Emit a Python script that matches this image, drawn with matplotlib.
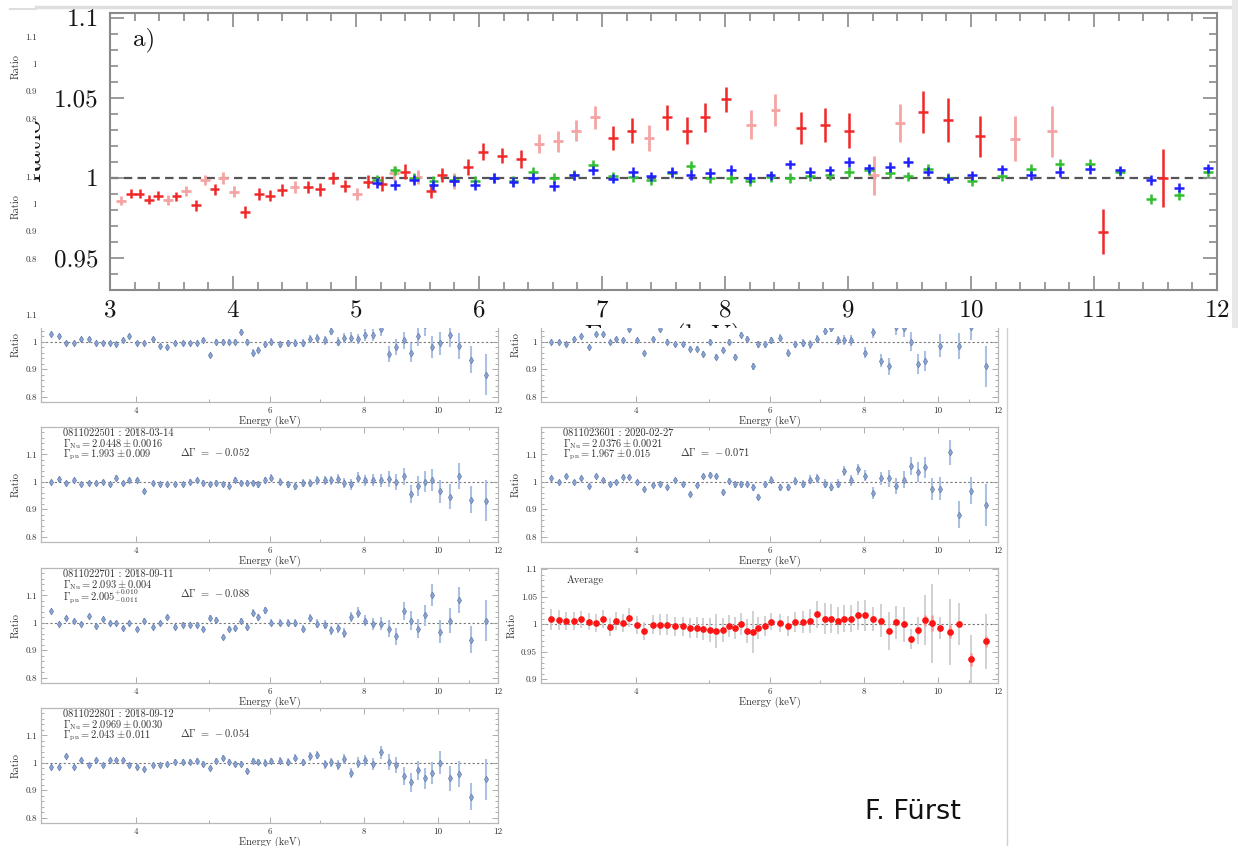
import matplotlib
matplotlib.use("Agg")
import matplotlib.pyplot as plt
from matplotlib.patches import Rectangle
from matplotlib.lines import Line2D
from matplotlib.transforms import Bbox, TransformedBbox
from matplotlib.ticker import FixedLocator, FixedFormatter, NullFormatter, MultipleLocator

plt.rcParams["font.family"] = ["cmr10", "DejaVu Serif"]
plt.rcParams["mathtext.fontset"] = "cm"
plt.rcParams["axes.formatter.use_mathtext"] = True

# ---------------- data ----------------
# common energy grid (keV) of the binned ratio spectra
energy = [3.09, 3.17, 3.24, 3.32, 3.39, 3.47, 3.54, 3.62, 3.70, 3.77, 3.85, 3.92, 4.01, 4.10, 4.21,
          4.30, 4.40, 4.50, 4.61, 4.71, 4.81, 4.91, 5.01, 5.10, 5.21, 5.31, 5.40, 5.50, 5.61, 5.70,
          5.80, 5.91, 6.03, 6.19, 6.34, 6.49, 6.64, 6.79, 6.94, 7.09, 7.24, 7.38, 7.53, 7.69, 7.84,
          8.01, 8.21, 8.41, 8.62, 8.81, 9.01, 9.21, 9.42, 9.61, 9.81, 10.07, 10.36, 10.66, 11.07, 11.56]

# panel a) : pn ratio, two shades of red
pn_dark_E = [3.17, 3.24, 3.32, 3.39, 3.54, 3.70, 3.85, 4.10, 4.21, 4.30, 4.40, 4.61, 4.71, 4.81, 4.91,
             5.10, 5.21, 5.40, 5.61, 5.70, 5.91, 6.03, 6.19, 6.34, 7.09, 7.24, 7.53, 7.69, 7.84, 8.01,
             8.62, 8.81, 9.01, 9.61, 9.81, 10.07, 11.07, 11.56]
pn_dark_R = [0.990, 0.990, 0.9863, 0.989, 0.9884, 0.9829, 0.993, 0.9786, 0.990, 0.989, 0.9924, 0.9945,
             0.993, 1.000, 0.995, 0.9976, 0.9965, 1.004, 0.9918, 1.002, 1.0067, 1.0165, 1.0139, 1.0118,
             1.0247, 1.0296, 1.0378, 1.0296, 1.0378, 1.049, 1.0312, 1.0329, 1.0296, 1.041, 1.036, 1.026,
             0.9665, 1.000]
pn_dark_err = [0.0028, 0.0028, 0.0028, 0.003, 0.003, 0.0035, 0.0035, 0.0038, 0.0035, 0.0035, 0.0038,
               0.0038, 0.004, 0.004, 0.004, 0.004, 0.0045, 0.0045, 0.0045, 0.0045, 0.005, 0.005, 0.0048,
               0.0055, 0.0075, 0.0077, 0.008, 0.0085, 0.009, 0.008, 0.010, 0.0105, 0.011, 0.013, 0.0138,
               0.0128, 0.0143, 0.018]
pn_light_E = [3.09, 3.47, 3.62, 3.77, 3.92, 4.01, 4.50, 5.01, 5.31, 5.50, 5.80, 6.49, 6.64, 6.79, 6.94,
              7.38, 8.21, 8.41, 9.21, 9.42, 10.36, 10.66]
pn_light_R = [0.9857, 0.9863, 0.992, 0.9986, 1.000, 0.9914, 0.9945, 0.990, 1.003, 1.0006, 0.998, 1.0214,
              1.023, 1.0296, 1.0378, 1.025, 1.0333, 1.0424, 1.0016, 1.0343, 1.0245, 1.029]
pn_light_err = [0.0028, 0.003, 0.003, 0.003, 0.0035, 0.0035, 0.0038, 0.004, 0.0045, 0.0045, 0.005, 0.006,
                0.0065, 0.0068, 0.007, 0.008, 0.009, 0.0097, 0.012, 0.012, 0.014, 0.016]

# panel a) : NuSTAR ratios (blue, green)
nu_E = [5.17, 5.32, 5.47, 5.63, 5.80, 5.97, 6.12, 6.28, 6.44, 6.61, 6.77, 6.93, 7.09, 7.25, 7.40, 7.57,
        7.72, 7.88, 8.05, 8.20, 8.37, 8.53, 8.69, 8.85, 9.01, 9.17, 9.34, 9.49, 9.65, 9.81, 10.01, 10.25,
        10.49, 10.72, 10.97, 11.21, 11.46, 11.69, 11.93]
fpma_R = [0.997, 0.9955, 0.9986, 0.9955, 0.998, 0.9955, 1.000, 0.9976, 1.000, 0.995, 1.0016, 1.0047,
          0.9996, 1.0037, 1.001, 1.0037, 1.002, 1.003, 1.005, 1.000, 1.0016, 1.0084, 1.0037, 1.0047,
          1.010, 1.006, 1.0067, 1.010, 1.004, 0.9996, 1.0016, 1.0053, 1.0016, 1.0037, 1.0053, 1.0047,
          0.9986, 0.9939, 1.006]
fpmb_R = [0.999, 1.0047, 1.000, 0.998, 0.999, 0.998, 1.000, 0.998, 1.004, 1.000, 1.002, 1.008, 1.001,
          1.0006, 0.9986, 1.003, 1.0073, 1.000, 1.000, 0.998, 1.0006, 1.000, 1.001, 1.0016, 1.0037,
          1.005, 1.003, 1.001, 1.0057, 1.000, 0.998, 1.001, 1.0057, 1.0088, 1.0088, 1.004, 0.987,
          0.9894, 1.0037]
nu_err = 0.003

# small panels (ratio per observation)
obs_top_left = [1.03, 1.02, 0.995, 0.995, 1.01, 1.01, 0.995, 0.995, 0.995, 0.99, 1.005, 1.02, 0.995,
                0.995, 1.01, 0.985, 0.98, 0.995, 0.995, 0.995, 0.995, 1.005, 0.95, 1.0, 1.0, 1.0, 1.0,
                1.035, 1.0, 0.96, 0.97, 0.99, 1.0, 0.99, 0.995, 0.995, 0.995, 1.01, 1.015, 1.005, 1.04,
                1.0, 1.015, 1.015, 1.01, 1.025, 1.025, 1.045, 0.955, 0.98, 1.005, 0.96, 1.02, 1.06,
                0.98, 0.995, 1.025, 0.985, 0.935, 0.88]
obs_top_right = [1.0, 1.0, 0.99, 1.01, 1.02, 0.98, 1.03, 1.03, 1.0, 1.01, 1.005, 1.045, 1.005, 0.96,
                 1.01, 1.045, 1.0, 0.99, 0.99, 0.975, 0.975, 0.955, 1.0, 0.945, 0.97, 1.0, 0.945, 1.025,
                 1.01, 0.91, 0.99, 0.99, 1.005, 1.015, 0.96, 0.99, 0.995, 0.99, 1.01, 1.04, 1.05, 1.005,
                 1.005, 1.005, 1.07, 0.96, 1.035, 0.93, 0.91, 1.055, 1.05, 1.0, 0.92, 0.93, 1.1, 0.985,
                 1.1, 0.985, 1.055, 0.91]
obs_2501 = [1.0, 1.01, 0.995, 1.005, 0.99, 0.995, 0.995, 1.0, 0.99, 1.015, 0.995, 1.005, 1.005, 0.965,
            0.995, 0.99, 0.99, 0.99, 0.99, 1.0, 1.005, 0.995, 0.99, 0.995, 0.99, 0.985, 1.005, 0.995,
            0.995, 0.995, 0.99, 1.005, 1.015, 1.0, 0.99, 0.985, 0.995, 0.995, 1.005, 1.005, 1.005, 1.01,
            0.995, 0.99, 1.015, 1.005, 1.005, 1.005, 1.01, 1.0, 1.02, 0.955, 0.985, 1.0, 1.005, 0.965,
            0.945, 1.02, 0.935, 0.93]
obs_3601 = [1.015, 1.0, 1.02, 1.0, 1.012, 0.985, 1.02, 1.005, 0.99, 1.0, 1.018, 1.018, 1.0, 0.973,
            0.988, 0.993, 0.98, 1.005, 0.99, 0.955, 0.988, 1.02, 1.025, 1.02, 0.963, 1.003, 0.99, 0.99,
            0.993, 0.98, 0.945, 0.99, 1.008, 0.98, 0.98, 1.003, 0.993, 1.008, 1.012, 0.993, 0.982,
            0.993, 1.04, 1.005, 1.045, 1.022, 0.96, 1.012, 1.012, 0.985, 1.008, 1.058, 1.035, 1.053,
            0.975, 0.975, 1.108, 0.88, 0.968, 0.915]
obs_2701 = [1.043, 0.997, 1.017, 1.005, 0.997, 1.023, 0.988, 1.012, 1.0, 1.0, 0.981, 1.0, 0.977, 1.008,
            0.985, 1.0, 1.02, 0.985, 0.993, 0.993, 0.993, 0.979, 1.017, 1.01, 0.947, 0.977, 0.981,
            1.008, 0.985, 1.037, 1.02, 1.045, 1.0, 1.0, 1.0, 1.0, 0.979, 1.017, 0.997, 0.993, 0.973,
            0.981, 0.962, 1.02, 1.037, 1.008, 0.997, 0.997, 0.979, 0.95, 1.043, 1.008, 0.979, 1.028,
            1.1, 0.967, 1.008, 1.083, 0.938, 1.008]
obs_2801 = [0.986, 0.986, 1.024, 0.984, 1.009, 0.992, 1.009, 0.992, 1.009, 1.009, 1.009, 0.992, 0.986,
            0.977, 0.992, 0.992, 0.995, 1.003, 1.003, 1.003, 1.007, 0.995, 0.98, 1.007, 1.017, 1.003,
            0.995, 0.995, 0.971, 1.007, 1.003, 1.0, 1.007, 1.007, 1.003, 1.019, 1.001, 1.023, 1.027,
            0.995, 1.001, 0.992, 1.015, 0.963, 1.0, 1.009, 0.995, 1.038, 1.003, 0.992, 0.951, 0.928,
            0.972, 0.943, 0.963, 1.0, 0.943, 0.959, 0.876, 0.94]
obs_err = [0.007, 0.007, 0.007, 0.007, 0.007, 0.007, 0.007, 0.007, 0.008, 0.008, 0.008, 0.008, 0.008,
           0.008, 0.008, 0.008, 0.009, 0.009, 0.009, 0.009, 0.009, 0.010, 0.010, 0.010, 0.010, 0.010,
           0.011, 0.011, 0.011, 0.012, 0.012, 0.012, 0.012, 0.013, 0.013, 0.014, 0.014, 0.015, 0.015,
           0.016, 0.016, 0.017, 0.018, 0.019, 0.020, 0.021, 0.022, 0.024, 0.030, 0.030, 0.032, 0.034,
           0.036, 0.038, 0.040, 0.042, 0.045, 0.048, 0.050, 0.075]

avg_R = [1.009, 1.0074, 1.0057, 1.0057, 1.0085, 1.0045, 1.0017, 1.009, 0.995, 1.0057, 1.0017, 1.012,
         0.9989, 0.9875, 0.9989, 0.9989, 0.9989, 0.996, 0.996, 0.9932, 0.9932, 0.9903, 0.9892, 0.9875,
         0.9892, 0.996, 0.9932, 1.0, 0.9875, 0.9864, 0.9932, 0.996, 1.0045, 1.0017, 0.996, 1.0034,
         1.0045, 1.0063, 1.0176, 1.010, 1.010, 1.0063, 1.010, 1.010, 1.016, 1.016, 1.010, 1.0063,
         0.9875, 1.0034, 1.0, 0.9733, 0.9886, 1.0074, 1.0017, 0.9932, 0.9864, 1.0, 0.9364, 0.9688]
avg_scatter = [0.019, 0.018, 0.017, 0.017, 0.016, 0.016, 0.016, 0.016, 0.017, 0.016, 0.016, 0.017,
               0.016, 0.017, 0.017, 0.019, 0.019, 0.017, 0.017, 0.018, 0.019, 0.020, 0.022, 0.030,
               0.022, 0.020, 0.020, 0.020, 0.022, 0.038, 0.020, 0.018, 0.016, 0.016, 0.018, 0.018,
               0.020, 0.022, 0.024, 0.028, 0.026, 0.024, 0.024, 0.025, 0.026, 0.028, 0.022, 0.030,
               0.034, 0.030, 0.032, 0.018, 0.025, 0.045, 0.072, 0.020, 0.060, 0.038, 0.044, 0.050]
avg_err = [0.003, 0.003, 0.003, 0.003, 0.003, 0.003, 0.003, 0.003, 0.003, 0.003, 0.003, 0.004, 0.003,
           0.003, 0.003, 0.003, 0.003, 0.003, 0.003, 0.003, 0.003, 0.003, 0.003, 0.003, 0.003, 0.003,
           0.003, 0.003, 0.003, 0.003, 0.003, 0.003, 0.003, 0.003, 0.003, 0.003, 0.003, 0.003, 0.004,
           0.004, 0.004, 0.004, 0.004, 0.004, 0.004, 0.004, 0.004, 0.005, 0.006, 0.005, 0.006, 0.006,
           0.006, 0.010, 0.015, 0.005, 0.012, 0.006, 0.012, 0.010]

small_xticks = [4, 6, 8, 10, 12]
small_xticklabels = ["4", "6", "8", "10", "12"]
small_xminor = [3, 5, 7, 9, 11]
obs_yticks = [0.8, 0.9, 1.0, 1.1]
obs_yticklabels = ["0.8", "0.9", "1", "1.1"]
avg_yticks = [0.9, 0.95, 1.0, 1.05, 1.1]
avg_yticklabels = ["0.9", "0.95", "1", "1.05", "1.1"]
top_yticks = [0.95, 1.0, 1.05, 1.1]
top_yticklabels = ["0.95", "1", "1.05", "1.1"]

# ---------------- figure ----------------
W, H = 1238, 846
fig = plt.figure(figsize=(W / 100, H / 100), dpi=100)
fig.patch.set_facecolor("white")


def rect(x0, y0, x1, y1):
    return [x0 / W, 1 - y1 / H, (x1 - x0) / W, (y1 - y0) / H]


def fig_bbox(x0, y0, x1, y1):
    return TransformedBbox(Bbox.from_extents(x0 / W, 1 - y1 / H, x1 / W, 1 - y0 / H), fig.transFigure)


SW, SH = 457, 115
LX, RX = 41, 541
ROWS = [9, 149, 287, 427, 568, 708]


def small_axes(x0, y0, ylim=(0.78, 1.2), yt=obs_yticks, ytl=obs_yticklabels, ymin=0.02):
    ax = fig.add_axes(rect(x0, y0, x0 + SW, y0 + SH))
    ax.set_xscale("log")
    ax.set_xlim(3, 12)
    ax.set_ylim(*ylim)
    ax.xaxis.set_major_locator(FixedLocator(small_xticks))
    ax.xaxis.set_major_formatter(FixedFormatter(small_xticklabels))
    ax.xaxis.set_minor_locator(FixedLocator(small_xminor))
    ax.xaxis.set_minor_formatter(NullFormatter())
    ax.yaxis.set_major_locator(FixedLocator(yt))
    ax.yaxis.set_major_formatter(FixedFormatter(ytl))
    ax.yaxis.set_minor_locator(MultipleLocator(ymin))
    ax.tick_params(which="both", direction="in", top=True, right=True, color="#a0a0a0",
                   labelcolor="#333333", labelsize=6.5, width=0.6, pad=3)
    ax.tick_params(which="major", length=4)
    ax.tick_params(which="minor", length=2)
    for s in ax.spines.values():
        s.set_color("#b8b8b8")
        s.set_linewidth(0.9)
    ax.set_xlabel("Energy (keV)", fontsize=7.5, labelpad=1, color="#333333")
    ax.set_ylabel("Ratio", fontsize=7.5, labelpad=3, color="#333333")
    ax.axhline(1.0, color="#777777", lw=0.8, ls=(0, (2, 2)), zorder=1)
    return ax


def blue_points(ax, vals):
    ax.errorbar(energy, vals, yerr=obs_err, fmt="d", ms=3.4, mfc="#8da5d0", mec="#6c85b5",
                mew=0.6, ecolor="#abc0e2", elinewidth=1.5, capsize=0, zorder=3)


def annotate(ax, lines, dgamma):
    ys = [0.945, 0.85, 0.755]
    for y, s in zip(ys, lines):
        ax.text(0.048, y, s, transform=ax.transAxes, fontsize=7.5, va="center", color="#333333")
    ax.text(0.305, 0.78, dgamma, transform=ax.transAxes, fontsize=7.5, va="center", color="#333333")


# hidden rows (only their left labels peek out)
small_axes(LX, ROWS[0])
small_axes(LX, ROWS[1])

ax = small_axes(LX, ROWS[2]); blue_points(ax, obs_top_left)
ax = small_axes(RX, ROWS[2]); blue_points(ax, obs_top_right)

ax = small_axes(LX, ROWS[3]); blue_points(ax, obs_2501)
annotate(ax, ["0811022501 : 2018-03-14", r"$\Gamma_{\rm Nu}=2.0448\pm0.0016$",
              r"$\Gamma_{\rm pn}=1.993\pm0.009$"], r"$\Delta\Gamma\ =\ -0.052$")
ax = small_axes(RX, ROWS[3]); blue_points(ax, obs_3601)
annotate(ax, ["0811023601 : 2020-02-27", r"$\Gamma_{\rm Nu}=2.0376\pm0.0021$",
              r"$\Gamma_{\rm pn}=1.967\pm0.015$"], r"$\Delta\Gamma\ =\ -0.071$")

ax = small_axes(LX, ROWS[4]); blue_points(ax, obs_2701)
annotate(ax, ["0811022701 : 2018-09-11", r"$\Gamma_{\rm Nu}=2.093\pm0.004$",
              r"$\Gamma_{\rm pn}=2.005^{+0.010}_{-0.011}$"], r"$\Delta\Gamma\ =\ -0.088$")
ax = small_axes(RX, ROWS[4], ylim=(0.893, 1.102), yt=avg_yticks, ytl=avg_yticklabels, ymin=0.01)
ax.errorbar(energy, avg_R, yerr=avg_scatter, fmt="none", ecolor="#c9c9c9", elinewidth=1.2, zorder=2)
ax.errorbar(energy, avg_R, yerr=avg_err, fmt="o", ms=3.8, mfc="#ff1414", mec="#ff1414",
            ecolor="#f59a9a", elinewidth=1.8, capsize=0, zorder=3)
ax.text(0.057, 0.895, "Average", transform=ax.transAxes, fontsize=7.5, va="center", color="#333333")

ax = small_axes(LX, ROWS[5]); blue_points(ax, obs_2801)
annotate(ax, ["0811022801 : 2018-09-12", r"$\Gamma_{\rm Nu}=2.0969\pm0.0030$",
              r"$\Gamma_{\rm pn}=2.043\pm0.011$"], r"$\Delta\Gamma\ =\ -0.054$")

# separator line of the right column
fig.add_artist(Line2D([1007 / W, 1007 / W], [0, 1 - 328 / H], transform=fig.transFigure,
                      color="#cfcfcf", lw=1.0, zorder=4))

fig.text(865 / W, 1 - 812 / H, "F. Fürst", family="DejaVu Sans", fontsize=19.5,
         va="center", ha="left", color="#111111", zorder=4)

# ---------------- overlaid panel a) ----------------
fig.add_artist(Rectangle((36 / W, 1 - 328 / H), (W - 36) / W, 328 / H, transform=fig.transFigure,
                         facecolor="white", edgecolor="none", zorder=5))
fig.add_artist(Line2D([36 / W, 1], [1 - 7 / H, 1 - 7 / H], transform=fig.transFigure,
                      color="#dedede", lw=2.5, zorder=6))
fig.add_artist(Line2D([10 / W, 36 / W], [1 - 9 / H, 1 - 9 / H], transform=fig.transFigure,
                      color="#dedede", lw=1.5, zorder=6))
fig.add_artist(Rectangle((1232 / W, 1 - 328 / H), 6 / W, 328 / H, transform=fig.transFigure,
                         facecolor="#e8e8e8", edgecolor="none", zorder=6))

axt = fig.add_axes(rect(110, 13, 1217, 290))
axt.set_zorder(10)
axt.set_xlim(3, 12)
axt.set_ylim(0.93, 1.103)
axt.xaxis.set_major_locator(MultipleLocator(1))
axt.xaxis.set_minor_locator(MultipleLocator(0.2))
axt.yaxis.set_major_locator(FixedLocator(top_yticks))
axt.yaxis.set_major_formatter(FixedFormatter(top_yticklabels))
axt.yaxis.set_minor_locator(MultipleLocator(0.01))
axt.tick_params(which="both", direction="in", top=True, right=True, color="#8a8a8a",
                labelcolor="#151515", labelsize=18, width=1.2)
axt.tick_params(axis="x", which="both", pad=7)
axt.tick_params(axis="y", which="both", pad=8)
axt.tick_params(which="major", length=10)
axt.tick_params(which="minor", length=6)
for s in axt.spines.values():
    s.set_color("#8a8a8a")
    s.set_linewidth(1.5)

axt.axhline(1.0, color="#555555", lw=1.6, ls=(0, (3.8, 2.4)), zorder=1)
axt.errorbar(pn_light_E, pn_light_R, yerr=pn_light_err, xerr=0.04, fmt="none",
             ecolor="#f5a3a3", elinewidth=2.0, zorder=2)
axt.errorbar(pn_dark_E, pn_dark_R, yerr=pn_dark_err, xerr=0.04, fmt="none",
             ecolor="#f02828", elinewidth=1.8, zorder=3)
axt.errorbar(nu_E, fpmb_R, yerr=nu_err, xerr=0.04, fmt="none",
             ecolor="#2fbf2f", elinewidth=1.8, zorder=4)
axt.errorbar(nu_E, fpma_R, yerr=nu_err, xerr=0.04, fmt="none",
             ecolor="#2020ff", elinewidth=1.8, zorder=5)

fig.text(133 / W, 1 - 40 / H, "a)", fontsize=18, va="center", ha="left", color="#151515", zorder=12)

clip = fig_bbox(35, 0, 1238, 328)
t = fig.text(663 / W, 1 - 336 / H, "Energy (keV)", fontsize=19, ha="center", va="center",
             color="#151515", zorder=11)
t.set_clip_box(clip)
t.set_clip_on(True)
t2 = fig.text(45 / W, 1 - 150 / H, "Ratio", fontsize=19, rotation=90, ha="right", va="center",
              color="#151515", zorder=11)
t2.set_clip_box(clip)
t2.set_clip_on(True)

fig.savefig("out.png", dpi=100, facecolor="white")
